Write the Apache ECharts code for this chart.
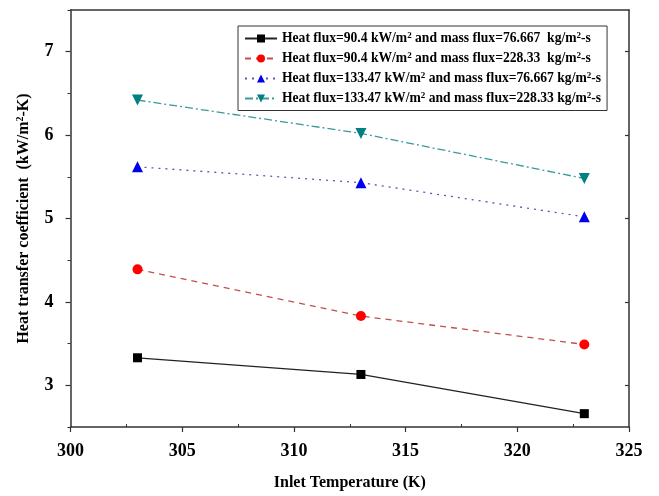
<!DOCTYPE html>
<html>
<head>
<meta charset="utf-8">
<script src="https://cdn.jsdelivr.net/npm/echarts@6/dist/echarts.min.js"></script>
<style>html,body{margin:0;padding:0;background:#fff}#c{width:659px;height:496px}</style>
</head>
<body>
<div id="c"></div>
<script>
const temps = [303, 313, 323];
const seriesNames = [
  'Heat flux=90.4 kW/m{s|2} and mass flux=76.667  kg/m{s|2}-s',
  'Heat flux=90.4 kW/m{s|2} and mass flux=228.33  kg/m{s|2}-s',
  'Heat flux=133.47 kW/m{s|2} and mass flux=76.667 kg/m{s|2}-s',
  'Heat flux=133.47 kW/m{s|2} and mass flux=228.33 kg/m{s|2}-s'
];
const s1 = [3.33, 3.13, 2.66];
const s2 = [4.39, 3.83, 3.49];
const s3 = [5.62, 5.43, 5.02];
const s4 = [6.42, 6.02, 5.48];
const xTicks = [300, 305, 310, 315, 320, 325];
const yTicks = [3, 4, 5, 6, 7];
const yMinorTicks = [2.5, 3.5, 4.5, 5.5, 6.5, 7.5];
const xMinorTicks = [302.5, 307.5, 312.5, 317.5, 322.5];

const font = '"Liberation Serif", "Times New Roman", serif';
const chart = echarts.init(document.getElementById('c'), null, {renderer: 'canvas'});

function mk(name, data, lineColor, markColor, symbol, type, size) {
  return {
    name: name, type: 'line', data: temps.map((t, i) => [t, data[i]]),
    xAxisIndex: 0, yAxisIndex: 0,
    symbol: symbol, symbolSize: size,
    lineStyle: {color: lineColor, width: 1.3, type: type},
    itemStyle: {color: markColor},
    z: 5
  };
}

const dashDot = [8, 3, 2, 3];

chart.setOption({
  animation: false,
  grid: {left: 70.5, right: 30, top: 10, bottom: 68, containLabel: false},
  legend: {
    left: 238, top: 26, orient: 'vertical',
    borderColor: '#333', borderWidth: 1, padding: [5, 6, 5, 6],
    itemGap: 5.5, itemWidth: 32, itemHeight: 10,
    data: seriesNames,
    formatter: n => n,
    textStyle: {
      fontFamily: font, fontWeight: 'bold', fontSize: 13.6, color: '#000',
      rich: {s: {fontFamily: font, fontWeight: 'bold', fontSize: 9, verticalAlign: 'top', padding: [0, 0, 6, 0], color: '#000'}}
    }
  },
  xAxis: [
    {
      type: 'value', position: 'bottom', min: 300, max: 325, interval: 5,
      name: 'Inlet Temperature (K)', nameLocation: 'middle', nameGap: 48,
      nameTextStyle: {fontFamily: font, fontWeight: 'bold', fontSize: 16, color: '#000'},
      axisLine: {show: true, onZero: false, lineStyle: {color: '#333', width: 1.5}},
      axisTick: {show: true, inside: false, length: 5, lineStyle: {color: '#333', width: 1.2}},
      axisLabel: {fontFamily: font, fontWeight: 'bold', fontSize: 18, color: '#000', margin: 15},
      splitLine: {show: false}
    },
    {
      type: 'value', position: 'top', min: 300, max: 325, interval: 5,
      axisLine: {show: true, onZero: false, lineStyle: {color: '#333', width: 1.5}},
      axisTick: {show: false}, axisLabel: {show: false}, splitLine: {show: false}
    },
    {
      type: 'value', position: 'bottom', min: 300, max: 325,
      axisLine: {show: false},
      axisTick: {show: true, inside: true, length: 3, customValues: xMinorTicks, lineStyle: {color: '#333', width: 1}},
      axisLabel: {show: false}, splitLine: {show: false}
    }
  ],
  yAxis: [
    {
      type: 'value', position: 'left', min: 2.5, max: 7.5,
      name: 'Heat transfer coefficient  (kW/m{s|2}-K)', nameLocation: 'middle', nameGap: 39, nameRotate: 90,
      nameTextStyle: {fontFamily: font, fontWeight: 'bold', fontSize: 16, color: '#000',
        rich: {s: {fontFamily: font, fontWeight: 'bold', fontSize: 10, verticalAlign: 'top', padding: [0, 0, 6, 0]}}},
      axisLine: {show: true, onZero: false, lineStyle: {color: '#333', width: 1.5}},
      axisTick: {show: true, inside: false, length: 5, customValues: yTicks, lineStyle: {color: '#333', width: 1.2}},
      axisLabel: {customValues: yTicks, fontFamily: font, fontWeight: 'bold', fontSize: 18, color: '#000', margin: 17},
      splitLine: {show: false}
    },
    {
      type: 'value', position: 'right', min: 2.5, max: 7.5,
      axisLine: {show: true, onZero: false, lineStyle: {color: '#333', width: 1.5}},
      axisTick: {show: true, inside: true, length: 4, customValues: yTicks, lineStyle: {color: '#333', width: 1.2}},
      axisLabel: {show: false}, splitLine: {show: false}
    },
    {
      type: 'value', position: 'left', min: 2.5, max: 7.5,
      axisLine: {show: false},
      axisTick: {show: true, inside: false, length: 3, customValues: yMinorTicks, lineStyle: {color: '#333', width: 1}},
      axisLabel: {show: false}, splitLine: {show: false}
    }
  ],
  series: [
    mk(seriesNames[0], s1, '#222222', '#000000', 'rect', 'solid', 9),
    mk(seriesNames[1], s2, '#c0504d', '#ff0000', 'circle', [6, 5], 10),
    mk(seriesNames[2], s3, '#5a5aaa', '#0000ee', 'triangle', [2, 5], 11),
    mk(seriesNames[3], s4, '#3a9a9a', '#008080', 'path://M0,0 L10,0 L5,9 Z', dashDot, 11)
  ]
});
</script>
</body>
</html>
